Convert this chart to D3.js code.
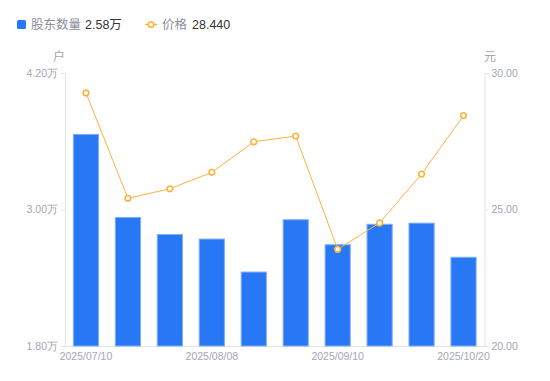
<!DOCTYPE html>
<html><head><meta charset="utf-8">
<script src="https://cdn.jsdelivr.net/npm/d3@7/dist/d3.min.js"></script>
<style>
body{margin:0;background:#fff;}
svg{display:block;font-family:"Liberation Sans","Noto Sans CJK SC",sans-serif;}
</style></head>
<body><svg id="c" width="550" height="381"></svg>
<script>
const dates = ["2025/07/10","2025/07/18","2025/07/31","2025/08/08","2025/08/20","2025/08/29","2025/09/10","2025/09/19","2025/09/30","2025/10/20"];
const holders = [3.66,2.93,2.78,2.74,2.45,2.91,2.69,2.87,2.88,2.58]; // 万户
const prices = [29.27,25.41,25.76,26.36,27.48,27.69,23.54,24.51,26.30,28.44];
const leftTicks = [1.8,3.0,4.2];
const rightTicks = [20,25,30];
const xLabelIdx = [0,3,6,9];

const svg = d3.select("#c");
const L=65, R=484.5, T=73, B=346;
const x = d3.scaleBand().domain(dates).range([L,R]).paddingInner(0.4).paddingOuter(0.2);
const yL = d3.scaleLinear().domain([1.8,4.2]).range([B,T]);
const yR = d3.scaleLinear().domain([20,30]).range([B,T]);
const gray="#a3a6b4", axisC="#e3e4e8";

// axes
const ax = svg.append("g").attr("transform",`translate(${L},0)`)
  .call(d3.axisLeft(yL).tickValues(leftTicks).tickSize(4).tickPadding(3).tickFormat(d=>d.toFixed(2)+"万"));
const ar = svg.append("g").attr("transform",`translate(${R},0)`)
  .call(d3.axisRight(yR).tickValues(rightTicks).tickSize(4).tickPadding(3).tickFormat(d=>d.toFixed(2)));
const ab = svg.append("g").attr("transform",`translate(0,${B})`)
  .call(d3.axisBottom(x).tickValues(xLabelIdx.map(i=>dates[i])).tickSize(0).tickPadding(7));
[ax,ar,ab].forEach(g=>{
  g.select(".domain").attr("stroke",axisC);
  g.selectAll(".tick line").attr("stroke",axisC);
  g.selectAll("text").attr("fill",gray).style("font-size","10.5px").style("font-family","inherit");
});

// bars
svg.append("g").selectAll("rect").data(holders).join("rect")
  .attr("x",(d,i)=>x(dates[i])).attr("width",x.bandwidth())
  .attr("y",d=>yL(d)).attr("height",d=>B-yL(d))
  .attr("fill","#2878f5").attr("stroke","#7eaef9").attr("stroke-width",1);

// line
const line = d3.line().x((d,i)=>x(dates[i])+x.bandwidth()/2).y(d=>yR(d));
svg.append("path").datum(prices).attr("d",line).attr("fill","none").attr("stroke","#fbb43f").attr("stroke-width",1);
svg.append("g").selectAll("circle").data(prices).join("circle")
  .attr("cx",(d,i)=>x(dates[i])+x.bandwidth()/2).attr("cy",d=>yR(d)).attr("r",2.8)
  .attr("fill","#fff").attr("stroke","#fbb43f").attr("stroke-width",1.6);

// unit labels
svg.append("text").attr("x",59).attr("y",61).attr("text-anchor","middle").attr("fill",gray).style("font-size","12px").text("户");
svg.append("text").attr("x",490).attr("y",61).attr("text-anchor","middle").attr("fill",gray).style("font-size","12px").text("元");

// legend
const lg = svg.append("g");
lg.append("rect").attr("x",17).attr("y",20).attr("width",9).attr("height",9).attr("rx",1.5).attr("fill","#2878f5");
lg.append("text").attr("x",31).attr("y",29).attr("fill","#8b8e9c").style("font-size","12.5px").text("股东数量");
lg.append("text").attr("x",85).attr("y",29).attr("fill","#333").style("font-size","12.5px").text(holders[holders.length-1].toFixed(2)+"万");
lg.append("line").attr("x1",145).attr("x2",157).attr("y1",24.5).attr("y2",24.5).attr("stroke","#fbb43f").attr("stroke-width",1.5);
lg.append("circle").attr("cx",151).attr("cy",24.5).attr("r",2.8).attr("fill","#fff").attr("stroke","#fbb43f").attr("stroke-width",1.6);
lg.append("text").attr("x",162).attr("y",29).attr("fill","#8b8e9c").style("font-size","12.5px").text("价格");
lg.append("text").attr("x",192).attr("y",29).attr("fill","#333").style("font-size","12.5px").text(prices[prices.length-1].toFixed(3));
</script></body></html>
